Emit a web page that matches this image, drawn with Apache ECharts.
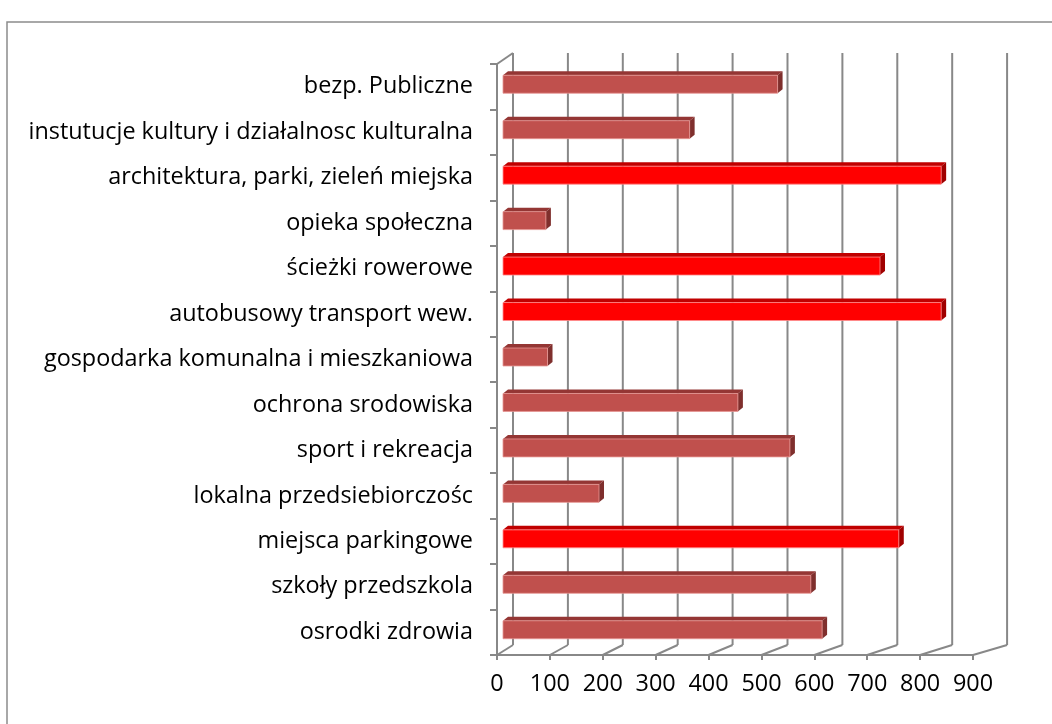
<!DOCTYPE html>
<html>
<head>
<meta charset="utf-8">
<script src="https://cdn.jsdelivr.net/npm/echarts@6/dist/echarts.min.js"></script>
<style>
  html, body { margin: 0; padding: 0; background: #fff; }
  #main { width: 1052px; height: 724px; }
</style>
</head>
<body>
<div id="main"></div>
<script>
// kategorie od góry do dołu
var categories = [
    'bezp. Publiczne',
    'instutucje kultury i działalnosc kulturalna',
    'architektura, parki, zieleń miejska',
    'opieka społeczna',
    'ścieżki rowerowe',
    'autobusowy transport wew.',
    'gospodarka komunalna i mieszkaniowa',
    'ochrona srodowiska',
    'sport i rekreacja',
    'lokalna przedsiebiorczośc',
    'miejsca parkingowe',
    'szkoły przedszkola',
    'osrodki zdrowia'
];
var values = [512, 348, 817, 80, 703, 817, 83, 438, 535, 179, 738, 574, 595];
// kategorie wyróżnione na czerwono
var highlighted = ['architektura, parki, zieleń miejska', 'ścieżki rowerowe', 'autobusowy transport wew.', 'miejsca parkingowe'];
var xTicks = [0, 100, 200, 300, 400, 500, 600, 700, 800, 900];

var gridColor = '#888888';
var DEPTH_X = 16, DEPTH_Y = -10, BACK_SCALE = 1.038;

var myChart = echarts.init(document.getElementById('main'));

// tylna ściana + podłoga (linie siatki w "3D")
function renderWall(params, api) {
    var cs = params.coordSys;
    var v = api.value(0);
    var front = api.coord([v, 0]);
    var fx = front[0];
    var bx = cs.x + DEPTH_X + (fx - cs.x) * BACK_SCALE;
    var top = cs.y, bottom = cs.y + cs.height;
    var children = [
        { type: 'line', shape: { x1: bx, y1: top - 11, x2: bx, y2: bottom + DEPTH_Y }, style: { stroke: gridColor, lineWidth: 2 } },
        { type: 'line', shape: { x1: bx, y1: bottom + DEPTH_Y, x2: fx, y2: bottom }, style: { stroke: gridColor, lineWidth: 2 } }
    ];
    if (v === 0) {
        children.push({ type: 'line', shape: { x1: fx, y1: top, x2: bx, y2: top - 11 }, style: { stroke: gridColor, lineWidth: 2 } });
    }
    return { type: 'group', children: children };
}

// słupki z przodem, górą i bokiem
function renderBar(params, api) {
    var val = api.value(0), idx = api.value(1);
    var p0 = api.coord([0, idx]);
    var p1 = api.coord([val, idx]);
    var band = api.size([0, 1])[1];
    var h = band * 0.395;
    var x0 = p0[0] + 6;
    var x1 = x0 + (p1[0] - p0[0]) * 1.014;
    var yc = p0[1] - 2.5;
    var yt = yc - h / 2, yb = yc + h / 2;
    var dx = 5, dy = -4;
    var red = highlighted.indexOf(categories[idx]) >= 0;
    var front = red ? '#ff0000' : '#c0504d';
    var topC = red ? '#c00000' : '#943634';
    var side = red ? '#a00000' : '#7f2f2d';
    var edge = red ? 'rgba(255,140,140,0.8)' : 'rgba(230,150,148,0.8)';
    return {
        type: 'group',
        children: [
            { type: 'polygon', shape: { points: [[x0, yt], [x0 + dx, yt + dy], [x1 + dx, yt + dy], [x1, yt]] }, style: { fill: topC } },
            { type: 'polygon', shape: { points: [[x1, yt], [x1 + dx, yt + dy], [x1 + dx, yb + dy], [x1, yb]] }, style: { fill: side } },
            { type: 'rect', shape: { x: x0, y: yt, width: x1 - x0, height: h }, style: { fill: front, stroke: edge, lineWidth: 1 } }
        ]
    };
}

var barData = values.map(function (v, i) { return [v, i]; });
var wallData = xTicks.map(function (v) { return [v, 0]; });

myChart.setOption({
    animation: false,
    graphic: [{
        type: 'rect',
        shape: { x: 7, y: 22, width: 1100, height: 760 },
        style: { fill: 'none', stroke: '#8c8c8c', lineWidth: 1.5 },
        z: 0
    }],
    grid: { left: 497, right: 79, top: 64, bottom: 69 },
    xAxis: {
        type: 'value',
        min: 0,
        max: 900,
        interval: 100,
        axisLine: { show: true, lineStyle: { color: gridColor, width: 2 } },
        axisTick: { show: true, length: 5, lineStyle: { color: gridColor, width: 2 } },
        splitLine: { show: false },
        axisLabel: { color: '#000', fontSize: 23.4, fontFamily: 'Open Sans', margin: 18 }
    },
    yAxis: {
        type: 'category',
        data: categories,
        inverse: true,
        axisLine: { show: true, lineStyle: { color: gridColor, width: 2 } },
        axisTick: { show: true, length: 7, lineStyle: { color: gridColor, width: 2 } },
        axisLabel: { color: '#000', fontSize: 23.4, fontFamily: 'Open Sans', margin: 24 }
    },
    series: [
        { type: 'custom', renderItem: renderWall, data: wallData, encode: { x: 0, y: 1 }, z: 1, silent: true },
        { type: 'custom', renderItem: renderBar, data: barData, encode: { x: 0, y: 1 }, z: 3 }
    ]
});
</script>
</body>
</html>
